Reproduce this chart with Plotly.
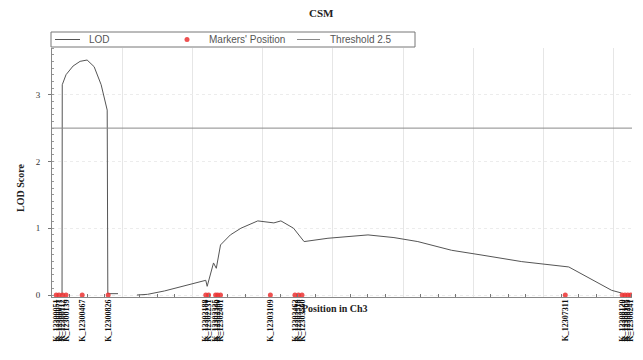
import plotly.graph_objects as go

# LOD profile (position in cM, LOD score); None = gap
lod_pos = [1.43, 1.46, 2.0, 3.0, 4.0, 5.0, 6.0, 7.0, 7.86, 7.95, 9.4, None,
           12.1, 13.6, 16.0, 19.7, 21.9, 22.1, 23.0, 23.4, 24.0, 25.4, 26.9, 29.3,
           31.6, 32.6, 34.4, 35.9, 39.3, 45.0, 48.7, 52.1, 56.9, 61.1, 66.9, 73.6,
           79.7, 81.1]
lod_val = [0.0, 3.15, 3.3, 3.43, 3.5, 3.52, 3.42, 3.15, 2.77, 0.02, 0.02, None,
           0.0, 0.01, 0.06, 0.16, 0.22, 0.13, 0.48, 0.40, 0.75, 0.90, 1.0, 1.11,
           1.08, 1.11, 1.0, 0.8, 0.85, 0.9, 0.86, 0.8, 0.67, 0.6, 0.5, 0.42,
           0.07, 0.03]

# Marker positions and names
marker_pos = [0.6, 1.0, 1.5, 2.0, 4.3, 8.0, 21.9, 22.3, 23.3, 23.6, 24.0,
              31.1, 34.6, 35.1, 35.6, 73.1, 81.2, 81.6, 82.0, 82.4]
marker_names = ["K_12300051", "K_12300077", "K_12300112", "K_12300139",
                "K_12300467", "K_12300826", "K_12302188", "K_12302231",
                "K_12302335", "K_12302360", "K_12302401", "K_12303109",
                "K_12303462", "K_12303518", "K_12303560", "K_12307311",
                "K_12308120", "K_12308163", "K_12308205", "K_12308241"]

threshold = 2.5
x_range = [0, 82.6]
y_range = [-0.03, 3.7]

# The page body has an 8px margin, so the figure is drawn 8px smaller and
# all window-pixel positions are shifted by that offset.
OFF = 8
FIG_W, FIG_H = 643 - OFF, 360 - OFF
# plot-area geometry in window pixels
L, R, T, B = 52, 632, 48, 297
W, H = R - L, B - T


def px(x):
    return (x - L) / W


def py(y):
    return (B - y) / H


LOD_COLOR = "#555555"
THR_COLOR = "#8a8a8a"
MRK_COLOR = "rgba(235,50,50,0.85)"

fig = go.Figure()

fig.add_trace(go.Scatter(
    x=lod_pos, y=lod_val, mode="lines", name="LOD",
    line=dict(color=LOD_COLOR, width=1), connectgaps=False))

fig.add_trace(go.Scatter(
    x=marker_pos, y=[0] * len(marker_pos), mode="markers",
    name="Markers' Position", xaxis="x2",
    marker=dict(color=MRK_COLOR, size=5)))

fig.add_trace(go.Scatter(
    x=x_range, y=[threshold, threshold], mode="lines", name="Threshold 2.5",
    line=dict(color=THR_COLOR, width=1)))

serif = "Liberation Serif"

fig.update_layout(
    width=FIG_W, height=FIG_H,
    margin=dict(l=L - OFF, r=643 - R, t=T - OFF, b=360 - B),
    paper_bgcolor="white", plot_bgcolor="white",
    showlegend=False,
    xaxis=dict(range=x_range, showgrid=True, gridcolor="#e6e6e6", gridwidth=1,
               dtick=10, tick0=0, showticklabels=False, ticks="",
               showline=True, linecolor="#888", linewidth=1, zeroline=False,
               automargin=False,
               minor=dict(dtick=2.5, ticks="inside", ticklen=3,
                          tickcolor="#777", showgrid=False)),
    xaxis2=dict(range=x_range, overlaying="x", side="bottom",
                tickmode="array", tickvals=marker_pos, ticktext=marker_names,
                tickangle=-90, ticks="", showgrid=False, showline=False,
                zeroline=False, automargin=False,
                tickfont=dict(family=serif, size=8, color="#111",
                              weight="bold")),
    yaxis=dict(range=y_range, tickvals=[0, 1, 2, 3], showgrid=True,
               gridcolor="#ececec", griddash="dot", zeroline=False,
               showline=True, linecolor="#888", linewidth=1,
               ticks="outside", ticklen=3, tickcolor="#777", automargin=False,
               ticklabelstandoff=6,
               tickfont=dict(family=serif, size=9, color="#333"),
               minor=dict(dtick=0.1, ticks="inside", ticklen=2,
                          tickcolor="#999", showgrid=False)),
)

# title and axis titles
fig.add_annotation(text="<b>CSM</b>", xref="paper", yref="paper",
                   x=px(321), y=py(13), xanchor="center", yanchor="middle",
                   showarrow=False,
                   font=dict(family=serif, size=11, color="#222"))
fig.add_annotation(text="<b>LOD Score</b>", textangle=-90,
                   xref="paper", yref="paper", x=px(20), y=py(188),
                   xanchor="center", yanchor="middle", showarrow=False,
                   font=dict(family=serif, size=10, color="#222"))
fig.add_annotation(text="<b>Position in Ch3</b>",
                   xref="paper", yref="paper", x=px(335), y=py(308),
                   xanchor="center", yanchor="middle", showarrow=False,
                   font=dict(family=serif, size=10, color="#222"))

# legend box drawn in paper coordinates
leg_yc = py(39.5)
fig.add_shape(type="rect", xref="paper", yref="paper",
              x0=px(51), x1=px(415), y0=py(47), y1=py(32),
              line=dict(color="#777", width=1), fillcolor="white")
legend_items = [
    ("LOD", "line", LOD_COLOR, 55, 80, 87),
    ("Markers' Position", "dot", MRK_COLOR, 184, 190, 207),
    ("Threshold 2.5", "line", THR_COLOR, 297, 320, 328),
]
for label, kind, color, s0, s1, tx in legend_items:
    if kind == "line":
        fig.add_shape(type="line", xref="paper", yref="paper",
                      x0=px(s0), x1=px(s1), y0=leg_yc, y1=leg_yc,
                      line=dict(color=color, width=1))
    else:
        fig.add_shape(type="circle", xref="paper", yref="paper",
                      x0=px(s0 + 0.5), x1=px(s1 - 0.5),
                      y0=py(42), y1=py(37),
                      line=dict(width=0), fillcolor=color)
    fig.add_annotation(text=label, xref="paper", yref="paper",
                       x=px(tx), y=leg_yc, xanchor="left", yanchor="middle",
                       showarrow=False,
                       font=dict(family="Liberation Sans", size=10,
                                 color="#555"))

fig.write_html("out.html")
